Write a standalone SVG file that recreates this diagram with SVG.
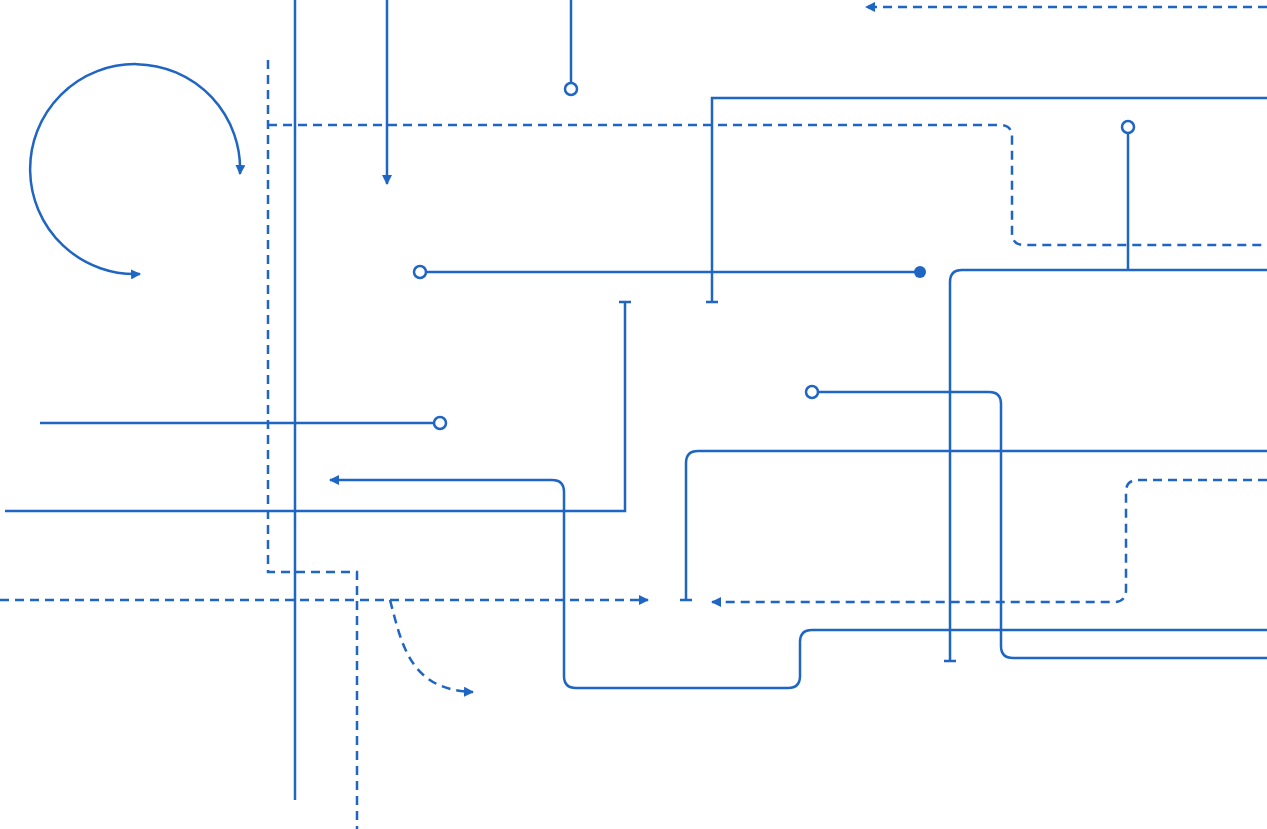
<svg xmlns="http://www.w3.org/2000/svg" width="1267" height="829" viewBox="0 0 1267 829">
<style>
.s{fill:none;stroke:#1f65c3;stroke-width:2.5}
.d{fill:none;stroke:#1f65c3;stroke-width:2.5;stroke-dasharray:9 6}
.o{fill:#fff;stroke:#1f65c3;stroke-width:2.5}
.f{fill:#1f65c3}
</style>
<defs>
<marker id="a" viewBox="0 0 10 10" refX="9" refY="5" markerWidth="4" markerHeight="4" orient="auto-start-reverse"><path d="M0 0L10 5L0 10z" fill="#1f65c3"/></marker>
</defs>
<rect width="1267" height="829" fill="#fff"/>
<g id="connectors">
<path class="s" d="M295 0V800"/>
<path class="s" d="M387 0V184" marker-end="url(#a)"/>
<path class="s" d="M571 0V83"/>
<path class="d" d="M1267 7H866" marker-end="url(#a)"/>
<path class="s" d="M140 274A105 105 0 1 1 240 174" marker-start="url(#a)" marker-end="url(#a)"/>
<path class="d" d="M268 60V572H357V829"/>
<path class="d" d="M268 125H1000Q1012 125 1012 137V233Q1012 245 1024 245H1267"/>
<path class="s" d="M1267 98H712V302M706 302H718"/>
<path class="s" d="M1128 133V270"/>
<path class="s" d="M426 272H920"/>
<path class="s" d="M1267 270H962Q950 270 950 282V661M944 661H956"/>
<path class="s" d="M619 302H631M625 302V511H5"/>
<path class="s" d="M40 423H434"/>
<path class="s" d="M1267 630H812Q800 630 800 642V676Q800 688 788 688H576Q564 688 564 676V492Q564 480 552 480H330" marker-end="url(#a)"/>
<path class="s" d="M818 392H989Q1001 392 1001 404V646Q1001 658 1013 658H1267"/>
<path class="s" d="M1267 451H698Q686 451 686 463V600M680 600H692"/>
<path class="d" d="M1267 480H1138Q1126 480 1126 492V590Q1126 602 1114 602H712" marker-end="url(#a)"/>
<path class="d" d="M0 600H648" marker-end="url(#a)"/>
<path class="d" d="M390 600C402 645 410 690 473 692" marker-end="url(#a)"/>
</g>
<g id="ends">
<circle class="o" cx="571" cy="89" r="6"/>
<circle class="o" cx="1128" cy="127" r="6"/>
<circle class="o" cx="420" cy="272" r="6"/>
<circle class="f" cx="920" cy="272" r="6"/>
<circle class="o" cx="440" cy="423" r="6"/>
<circle class="o" cx="812" cy="392" r="6"/>
</g>
</svg>
